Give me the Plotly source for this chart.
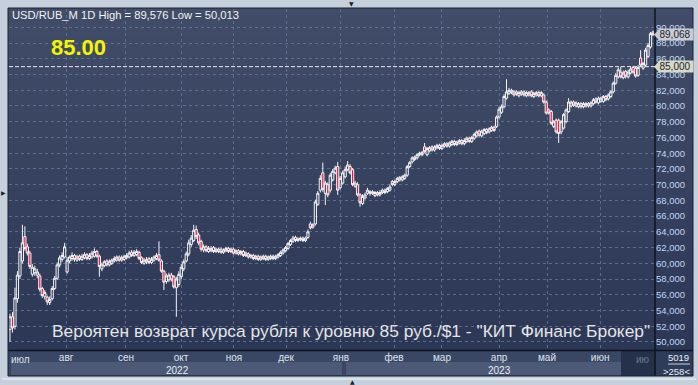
import plotly.graph_objects as go

# ---------------- data ----------------
open_ = [
    51.6, 53.2, 52.0, 55.5, 58.4, 60.3, 63.4, 62.1, 61.3, 58.6,
    58.8, 58.5, 58.4, 56.8, 55.8, 55.7, 55.0, 55.5, 56.8, 58.1,
    59.8, 60.5, 60.8, 58.9, 60.3, 60.6, 61.0, 60.4, 60.9, 60.5,
    60.7, 61.1, 60.6, 60.8, 60.9, 61.5, 60.9, 59.3, 59.7, 60.3,
    59.8, 60.0, 60.3, 60.4, 60.8, 60.4, 60.5, 60.7, 60.8, 61.4,
    61.0, 61.1, 61.4, 60.7, 60.0, 60.2, 60.6, 60.1, 60.4, 60.6,
    61.1, 60.3, 59.0, 57.7, 57.9, 58.5, 58.3, 56.9, 57.3, 58.3,
    59.3, 60.3, 61.2, 62.4, 62.9, 64.3, 63.6, 62.8, 61.7, 62.1,
    61.5, 61.6, 62.0, 61.5, 61.5, 61.8, 61.4, 61.6, 61.9, 61.5,
    61.8, 61.3, 61.6, 61.2, 61.5, 61.0, 61.2, 60.8, 61.0, 60.6,
    60.9, 60.5, 60.6, 60.9, 60.5, 60.6, 60.9, 60.6, 60.8, 61.0,
    61.3, 61.6, 61.9, 62.4, 62.8, 63.3, 62.9, 63.0, 63.2, 62.9,
    63.3, 65.0, 64.6, 65.0, 67.5, 69.3, 71.5, 68.9, 70.0, 69.3,
    70.6, 71.5, 72.3, 69.6, 70.2, 71.0, 71.9, 72.3, 71.9, 69.8,
    70.0, 68.7, 67.6, 68.3, 68.9, 69.1, 69.1, 68.6, 69.0, 68.7,
    69.0, 69.3, 69.1, 69.3, 70.4, 70.0, 70.4, 70.9, 70.6, 70.8,
    71.2, 72.3, 72.9, 73.5, 73.4, 73.8, 74.1, 74.8, 73.8, 74.3,
    74.8, 74.4, 74.7, 75.0, 74.6, 74.9, 75.2, 74.9, 75.1, 75.5,
    75.1, 75.3, 75.6, 75.2, 75.5, 75.9, 75.5, 75.9, 76.2, 76.8,
    76.2, 76.5, 77.0, 76.7, 76.9, 77.3, 77.4, 78.6, 79.2, 79.9,
    81.0, 81.6, 81.7, 81.8, 81.8, 81.3, 81.5, 81.8, 81.3, 81.4,
    81.8, 81.2, 81.4, 81.7, 81.3, 81.4, 80.5, 79.5, 79.3, 77.4,
    78.2, 78.2, 76.7, 77.2, 78.0, 79.3, 80.0, 80.5, 80.0, 79.9,
    80.3, 79.9, 80.0, 80.3, 80.0, 80.3, 80.9, 80.4, 80.6, 80.6,
    81.2, 80.9, 81.2, 81.8, 82.9, 83.7, 84.3, 83.6, 84.4, 83.7,
    84.2, 84.9, 84.8, 83.9, 86.1, 84.8, 85.2, 86.3, 87.5, 89.4,
]
high_ = [
    53.6, 53.8, 56.9, 59.0, 62.0, 64.9, 64.7, 62.5, 61.6, 59.9,
    59.7, 59.3, 58.7, 57.0, 56.6, 55.9, 55.8, 57.1, 58.4, 60.1,
    61.0, 61.4, 62.6, 60.8, 61.0, 61.4, 61.2, 61.1, 61.1, 61.2,
    61.4, 61.3, 61.3, 61.6, 61.9, 61.7, 61.1, 60.1, 60.4, 60.5,
    60.5, 60.6, 60.9, 61.0, 61.0, 61.0, 61.1, 61.3, 61.6, 61.7,
    61.7, 61.8, 61.6, 60.9, 60.7, 60.8, 60.8, 60.8, 61.0, 61.3,
    62.8, 60.5, 59.2, 58.7, 58.8, 58.8, 58.5, 58.3, 59.0, 59.9,
    60.5, 61.5, 63.0, 63.6, 64.9, 64.8, 63.9, 63.0, 62.4, 62.3,
    62.2, 62.2, 62.2, 62.0, 62.0, 62.0, 61.9, 62.1, 62.1, 62.0,
    62.0, 61.8, 61.8, 61.7, 61.7, 61.5, 61.4, 61.2, 61.2, 61.1,
    61.1, 61.0, 61.1, 61.1, 61.0, 61.1, 61.1, 61.1, 61.3, 61.6,
    61.9, 62.2, 62.7, 63.1, 63.5, 63.5, 63.3, 63.4, 63.4, 63.4,
    64.3, 65.3, 65.1, 68.1, 69.2, 71.2, 72.8, 70.5, 70.3, 71.5,
    72.0, 72.4, 72.9, 71.1, 71.8, 72.3, 73.0, 72.6, 72.1, 70.5,
    70.3, 68.9, 68.8, 69.0, 69.6, 69.3, 69.3, 69.2, 69.2, 69.3,
    69.5, 69.5, 69.7, 70.0, 70.6, 70.6, 71.0, 71.1, 71.2, 71.4,
    72.5, 73.0, 73.6, 73.7, 74.0, 74.2, 74.3, 75.3, 74.8, 74.9,
    75.0, 75.0, 75.2, 75.2, 75.2, 75.4, 75.4, 75.5, 75.7, 75.7,
    75.6, 75.8, 75.8, 75.9, 76.1, 76.1, 76.2, 76.6, 76.9, 77.0,
    77.0, 77.2, 77.2, 77.3, 77.5, 77.5, 78.8, 79.9, 80.2, 81.5,
    83.4, 82.3, 82.2, 82.0, 82.0, 81.9, 82.0, 82.0, 81.9, 81.9,
    82.0, 81.8, 81.9, 81.9, 81.9, 81.6, 80.7, 79.7, 79.5, 78.2,
    78.4, 78.4, 78.2, 79.1, 79.7, 81.0, 80.7, 80.7, 80.6, 80.5,
    80.5, 80.5, 80.5, 80.5, 80.6, 81.0, 81.1, 81.2, 81.2, 81.4,
    81.4, 81.6, 82.0, 83.1, 84.2, 84.9, 85.0, 84.5, 84.6, 84.6,
    85.0, 85.1, 85.0, 85.2, 87.1, 85.6, 87.4, 88.0, 89.4, 89.576,
]
low_ = [
    50.013, 51.2, 51.6, 55.0, 58.0, 60.0, 61.6, 61.0, 59.3, 58.3,
    58.4, 58.1, 56.4, 55.6, 55.4, 54.7, 54.7, 55.3, 56.6, 57.9,
    59.5, 60.2, 60.6, 58.7, 60.0, 60.3, 60.2, 60.2, 60.3, 60.3,
    60.5, 60.4, 60.4, 60.6, 60.7, 60.7, 58.3, 59.0, 59.5, 59.6,
    59.6, 59.8, 60.1, 60.2, 60.2, 60.2, 60.3, 60.5, 60.6, 60.8,
    60.8, 60.9, 60.4, 59.9, 59.8, 59.9, 59.9, 59.9, 60.2, 60.4,
    60.2, 58.8, 56.6, 57.4, 57.6, 57.7, 56.8, 53.2, 57.0, 58.0,
    59.0, 60.1, 60.9, 62.1, 62.7, 63.1, 62.3, 61.5, 61.4, 61.4,
    61.3, 61.4, 61.3, 61.3, 61.3, 61.2, 61.2, 61.4, 61.3, 61.3,
    61.1, 61.1, 61.0, 61.0, 60.8, 60.8, 60.6, 60.6, 60.4, 60.4,
    60.3, 60.3, 60.4, 60.3, 60.3, 60.4, 60.4, 60.4, 60.6, 60.8,
    61.1, 61.4, 61.7, 62.2, 62.6, 62.7, 62.7, 62.8, 62.7, 62.7,
    63.1, 64.3, 64.4, 64.8, 67.3, 69.0, 69.1, 67.4, 68.4, 69.0,
    70.4, 71.3, 68.7, 69.4, 70.0, 70.8, 71.7, 71.3, 69.8, 69.6,
    68.5, 67.2, 67.4, 68.1, 68.7, 68.6, 68.7, 68.4, 68.5, 68.5,
    68.8, 68.8, 68.9, 69.1, 69.8, 69.8, 70.2, 70.4, 70.4, 70.6,
    71.0, 72.1, 72.7, 73.0, 73.2, 73.6, 73.6, 74.0, 73.6, 74.1,
    74.2, 74.2, 74.5, 74.4, 74.4, 74.7, 74.7, 74.7, 74.9, 74.9,
    74.9, 75.1, 75.0, 75.0, 75.3, 75.3, 75.3, 75.7, 76.0, 76.1,
    76.0, 76.3, 76.4, 76.5, 76.7, 76.7, 77.2, 78.4, 79.0, 79.7,
    80.8, 81.4, 81.5, 81.2, 81.3, 81.1, 81.3, 81.2, 81.1, 81.2,
    81.1, 81.0, 81.2, 81.1, 81.1, 80.3, 78.9, 78.9, 77.6, 77.2,
    76.5, 75.3, 76.4, 77.0, 77.8, 79.1, 79.8, 79.9, 79.8, 79.7,
    79.7, 79.7, 79.8, 79.8, 79.8, 80.1, 80.3, 80.2, 80.4, 80.4,
    80.6, 80.7, 81.0, 81.6, 82.7, 83.5, 83.5, 83.4, 83.5, 83.5,
    84.0, 84.1, 83.6, 83.7, 85.0, 84.6, 85.0, 86.1, 87.3, 88.9,
]
close_ = [
    53.2, 51.8, 55.6, 58.5, 61.5, 62.6, 61.9, 61.3, 59.6, 59.5,
    59.3, 58.9, 56.7, 55.9, 56.3, 55.1, 55.4, 56.8, 58.1, 59.8,
    60.7, 61.0, 62.1, 60.4, 60.8, 61.0, 60.5, 60.8, 60.5, 60.9,
    61.1, 60.6, 61.0, 61.3, 61.5, 60.9, 59.6, 59.8, 60.2, 59.8,
    60.2, 60.4, 60.6, 60.8, 60.4, 60.7, 60.9, 61.0, 61.3, 61.0,
    61.4, 61.5, 60.6, 60.1, 60.4, 60.5, 60.1, 60.5, 60.8, 61.0,
    60.4, 59.0, 57.6, 58.4, 58.5, 57.9, 57.0, 58.0, 58.6, 59.5,
    60.2, 61.2, 62.6, 63.2, 64.2, 63.4, 62.6, 61.8, 62.1, 61.6,
    61.9, 61.9, 61.5, 61.8, 61.8, 61.4, 61.7, 61.9, 61.5, 61.8,
    61.3, 61.6, 61.2, 61.5, 61.0, 61.3, 60.8, 61.0, 60.6, 60.9,
    60.5, 60.8, 60.9, 60.5, 60.8, 60.9, 60.6, 60.9, 61.1, 61.4,
    61.7, 62.0, 62.5, 62.9, 63.2, 62.9, 63.1, 63.2, 62.9, 63.2,
    64.0, 64.5, 64.9, 67.8, 68.9, 70.8, 69.4, 70.2, 68.7, 71.2,
    71.7, 72.1, 69.3, 70.8, 71.5, 71.9, 72.5, 71.5, 70.0, 70.2,
    68.7, 67.7, 68.5, 68.7, 69.3, 68.9, 68.9, 69.0, 68.7, 69.0,
    69.3, 69.0, 69.5, 69.7, 70.0, 70.4, 70.8, 70.6, 71.0, 71.2,
    72.3, 72.8, 73.4, 73.2, 73.8, 74.0, 73.8, 74.2, 74.6, 74.7,
    74.4, 74.8, 75.0, 74.6, 75.0, 75.2, 74.9, 75.3, 75.5, 75.1,
    75.4, 75.6, 75.2, 75.6, 75.9, 75.5, 76.0, 76.4, 76.7, 76.3,
    76.8, 77.0, 76.6, 77.1, 77.3, 76.9, 78.6, 79.6, 79.9, 81.2,
    81.8, 82.0, 82.0, 81.4, 81.5, 81.7, 81.8, 81.4, 81.7, 81.7,
    81.3, 81.6, 81.7, 81.3, 81.7, 80.5, 79.1, 79.1, 77.8, 78.0,
    76.7, 76.5, 78.0, 78.9, 79.5, 80.5, 80.5, 80.1, 80.4, 80.3,
    79.9, 80.3, 80.3, 80.0, 80.4, 80.8, 80.5, 81.0, 81.0, 81.2,
    80.8, 81.4, 81.8, 82.9, 83.9, 84.6, 83.7, 84.2, 83.8, 84.3,
    84.7, 84.3, 83.8, 84.9, 85.2, 85.4, 87.1, 87.7, 89.2, 89.068,
]

month_labels = ["авг", "сен", "окт", "ноя", "дек", "янв", "фев", "мар", "апр", "май", "июн"]
month_start_bar = [22.6, 46.7, 68.9, 90.2, 111.2, 133.3, 154.7, 174.0, 197.0, 216.3, 237.7]
first_month_label = "июл"
next_month_label = "ию"
year_labels = ["2022", "2023"]
y_tick_values = list(range(50, 92, 2))
y_tick_labels = [f"{v},000" for v in y_tick_values]
title_text = "USD/RUB_M 1D High = 89,576 Low = 50,013"
level_value = 85.0
level_text = "85.00"
level_label = "85,000"
last_label = "89,068"
last_value = 89.068
footer_text = "Вероятен возврат курса рубля к уровню 85 руб./$1 - \"КИТ Финанс Брокер\""
counter_top = "5019"
counter_bottom = ">258<"

bar_index = list(range(len(close_)))

# ---------------- geometry helpers (pixel -> paper) ----------------
W, H = 698, 385
ML, MR, MT, MB = 9, 43, 9, 35
PW, PH = W - ML - MR, H - MT - MB


def px(x):
    return (x - ML) / PW


def py(y):
    return (H - MB - y) / PH


FONT = "Liberation Sans, Arial, sans-serif"

fig = go.Figure(
    go.Candlestick(
        x=bar_index, open=open_, high=high_, low=low_, close=close_,
        increasing=dict(line=dict(color="#f4f4f4", width=1), fillcolor="rgba(0,0,0,0)"),
        decreasing=dict(line=dict(color="#f4f4f4", width=1), fillcolor="#e8173f"),
        whiskerwidth=0, hoverinfo="skip", showlegend=False,
    )
)

y_lo, y_hi = 48.98, 92.33


def vy(v):
    return (v - y_lo) / (y_hi - y_lo)


shapes = []
# vertical gradient background of the panel
n_bands = 36
top_c = (65, 77, 104)
bot_c = (43, 55, 85)
y_top, y_bot = 8, 350
for k in range(n_bands):
    t = k / (n_bands - 1)
    c = tuple(round(top_c[j] + (bot_c[j] - top_c[j]) * t) for j in range(3))
    ya = y_top + (y_bot - y_top) * k / n_bands
    yb = y_top + (y_bot - y_top) * (k + 1) / n_bands + 0.6
    shapes.append(dict(type="rect", xref="paper", yref="paper", layer="below",
                       x0=px(8), x1=px(693), y0=py(ya), y1=py(yb),
                       fillcolor="rgb(%d,%d,%d)" % c, line=dict(width=0)))
# x-axis band
shapes += [
    dict(type="rect", xref="paper", yref="paper", layer="below",
         x0=px(8), x1=px(655), y0=py(350), y1=py(376),
         fillcolor="rgb(57,71,100)", line=dict(width=0)),
    dict(type="rect", xref="paper", yref="paper", layer="below",
         x0=px(11), x1=px(342), y0=py(362), y1=py(375),
         fillcolor="rgb(76,90,119)", line=dict(width=0)),
    dict(type="rect", xref="paper", yref="paper", layer="below",
         x0=px(346), x1=px(621), y0=py(362), y1=py(375),
         fillcolor="rgb(76,90,119)", line=dict(width=0)),
    dict(type="rect", xref="paper", yref="paper", layer="below",
         x0=px(621), x1=px(655), y0=py(350), y1=py(376),
         fillcolor="rgb(37,49,75)", line=dict(width=0)),
    dict(type="rect", xref="paper", yref="paper", layer="below",
         x0=px(655), x1=px(693), y0=py(350), y1=py(376),
         fillcolor="rgb(47,60,89)", line=dict(width=0)),
]
# separators, frame, level line
shapes += [
    dict(type="line", xref="paper", yref="paper", layer="above",
         x0=px(655), x1=px(655), y0=py(8), y1=py(376),
         line=dict(color="#0e131d", width=1.5)),
    dict(type="line", xref="paper", yref="paper", layer="above",
         x0=px(8), x1=px(693), y0=py(350.5), y1=py(350.5),
         line=dict(color="#0e131d", width=1.5)),
    dict(type="rect", xref="paper", yref="paper", layer="above",
         x0=px(8), x1=px(693), y0=py(376), y1=py(8),
         line=dict(color="#1a2131", width=1)),
    dict(type="line", xref="paper", yref="paper", layer="above",
         x0=px(2), x1=px(696), y0=py(379), y1=py(379),
         line=dict(color="#f0f4f8", width=1)),
    dict(type="line", xref="paper", yref="y", layer="above",
         x0=0, x1=1, y0=level_value, y1=level_value,
         line=dict(color="#eeeeee", width=1, dash="4px,2px")),
    dict(type="line", xref="paper", yref="paper", layer="above",
         x0=px(668), x1=px(690), y0=py(364), y1=py(364),
         line=dict(color="#c8cfdb", width=1)),
]
# pointers of the price labels
for val, col in ((last_value, "#c9ccd2"), (level_value, "#d6dac6")):
    yc = vy(val)
    d = 5.5 / PH
    shapes.append(dict(type="path", xref="paper", yref="paper", layer="above",
                       path="M %f,%f L %f,%f L %f,%f Z" % (px(654), yc, px(659), yc + d, px(659), yc - d),
                       fillcolor=col, line=dict(width=0)))

annotations = [
    dict(text=title_text, xref="paper", yref="paper", x=px(10), y=py(15),
         xanchor="left", yanchor="middle", showarrow=False,
         font=dict(family=FONT, size=11.2, color="#f2f2f2")),
    dict(text="<b>%s</b>" % level_text, xref="paper", yref="paper", x=px(49), y=py(47),
         xanchor="left", yanchor="middle", showarrow=False,
         font=dict(family=FONT, size=22, color="#f5f500")),
    dict(text=footer_text, xref="paper", yref="paper", x=px(652), y=py(331),
         xanchor="right", yanchor="middle", showarrow=False,
         font=dict(family=FONT, size=17.4, color="#e4e4e6")),
    dict(text=first_month_label, xref="paper", yref="paper", x=px(9), y=py(359.5),
         xanchor="left", yanchor="middle", showarrow=False,
         font=dict(family=FONT, size=10, color="#dfe4ee")),
    dict(text=next_month_label, xref="paper", yref="paper", x=px(652), y=py(359.5),
         xanchor="right", yanchor="middle", showarrow=False,
         font=dict(family=FONT, size=10, color="#6d7890")),
    dict(text=year_labels[0], xref="paper", yref="paper", x=px(177), y=py(370),
         xanchor="center", yanchor="middle", showarrow=False,
         font=dict(family=FONT, size=10, color="#e8ecf3")),
    dict(text=year_labels[1], xref="paper", yref="paper", x=px(499), y=py(370),
         xanchor="center", yanchor="middle", showarrow=False,
         font=dict(family=FONT, size=10, color="#e8ecf3")),
    dict(text=counter_top, xref="paper", yref="paper", x=px(678), y=py(357),
         xanchor="center", yanchor="middle", showarrow=False,
         font=dict(family=FONT, size=9.5, color="#e8ecf3")),
    dict(text=counter_bottom, xref="paper", yref="paper", x=px(676), y=py(371),
         xanchor="center", yanchor="middle", showarrow=False,
         font=dict(family=FONT, size=9.5, color="#e8ecf3")),
    dict(text=last_label, xref="paper", yref="y", x=px(658), y=last_value,
         xanchor="left", yanchor="middle", showarrow=False, width=33, height=10,
         align="left", bgcolor="#c9ccd2", borderpad=0.5,
         font=dict(family=FONT, size=10, color="#1d2333")),
    dict(text=level_label, xref="paper", yref="y", x=px(658), y=level_value,
         xanchor="left", yanchor="middle", showarrow=False, width=33, height=10,
         align="left", bgcolor="#d6dac6", borderpad=0.5,
         font=dict(family=FONT, size=10, color="#1d2333")),
    dict(text="▼", xref="paper", yref="paper", x=px(351), y=py(3.6),
         xanchor="center", yanchor="middle", showarrow=False,
         font=dict(family="DejaVu Sans", size=6, color="#1a1f2a")),
    dict(text="▲", xref="paper", yref="paper", x=px(352), y=py(381.4),
         xanchor="center", yanchor="middle", showarrow=False,
         font=dict(family="DejaVu Sans", size=6, color="#1a1f2a")),
    dict(text="▶", xref="paper", yref="paper", x=px(3.5), y=py(192),
         xanchor="center", yanchor="middle", showarrow=False,
         font=dict(family="DejaVu Sans", size=6, color="#1a1f2a")),
]

grid_col = "rgba(100,116,148,0.85)"
fig.update_layout(
    width=W, height=H,
    margin=dict(l=ML, r=MR, t=MT, b=MB, pad=0),
    paper_bgcolor="#c6d0dd",
    plot_bgcolor="rgba(0,0,0,0)",
    boxgap=0.06, boxgroupgap=0.06,
    showlegend=False,
    shapes=shapes,
    annotations=annotations,
    xaxis=dict(
        range=[-0.4, 259.8], tickmode="array", tickvals=month_start_bar, ticktext=month_labels,
        showgrid=True, gridcolor=grid_col, griddash="3px,3px", gridwidth=1,
        zeroline=False, showline=False, ticks="", rangeslider=dict(visible=False),
        tickfont=dict(family=FONT, size=10, color="#dfe4ee"), fixedrange=True,
        tickangle=0,
    ),
    yaxis=dict(
        side="right", range=[y_lo, y_hi], tickmode="array",
        tickvals=y_tick_values, ticktext=y_tick_labels,
        showgrid=True, gridcolor=grid_col, griddash="3px,3px", gridwidth=1,
        zeroline=False, showline=False, ticks="",
        tickfont=dict(family=FONT, size=9.5, color="#c2d5f3"), fixedrange=True,
    ),
)

fig.write_html("out.html")
